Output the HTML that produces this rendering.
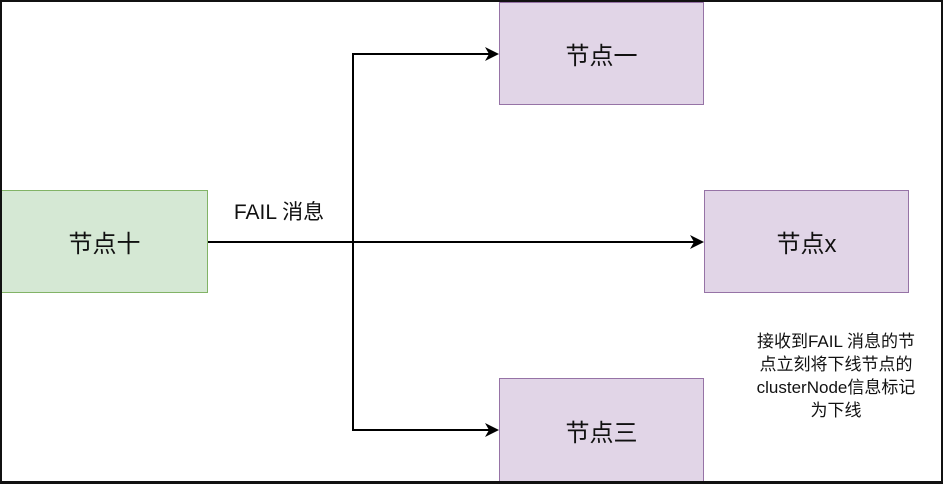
<!DOCTYPE html>
<html><head><meta charset="utf-8"><style>
html,body{margin:0;padding:0;background:#fff;}
body{width:943px;height:484px;position:relative;overflow:hidden;font-family:"Liberation Sans","Noto Sans CJK SC",sans-serif;}
.frame{position:absolute;left:0;top:0;width:943px;height:484px;box-sizing:border-box;border:2px solid #111;border-bottom-width:3px;}
.box{position:absolute;box-sizing:border-box;display:flex;align-items:center;justify-content:center;font-size:24px;color:#111;}
.g{background:#d5e8d4;border:1.5px solid #82b366;}
.p{background:#e1d5e7;border:1.5px solid #9673a6;}
</style></head><body>
<div class="box g" style="left:1px;top:190px;width:207px;height:103px;">节点十</div>
<div class="box p" style="left:499px;top:2px;width:205px;height:103px;">节点一</div>
<div class="box p" style="left:704px;top:190px;width:205px;height:103px;">节点x</div>
<div class="box p" style="left:499px;top:378px;width:205px;height:104px;">节点三</div>
<svg style="position:absolute;left:0;top:0" width="943" height="484">
<g stroke="#000" stroke-width="2" fill="none">
<line x1="208" y1="242" x2="694" y2="242"/>
<polyline points="489,54 353,54 353,430 489,430"/>
</g>
<g fill="#000">
<polygon points="704,242 690,235 694,242 690,249"/>
<polygon points="499,54 485,47 489,54 485,61"/>
<polygon points="499,430 485,423 489,430 485,437"/>
</g>
<text x="279" y="219" font-size="21" text-anchor="middle" font-family="Liberation Sans,Noto Sans CJK SC,sans-serif" fill="#111">FAIL 消息</text>
<g font-size="17" text-anchor="middle" font-family="Liberation Sans,Noto Sans CJK SC,sans-serif" fill="#111">
<text x="836" y="347">接收到FAIL 消息的节</text>
<text x="836" y="370">点立刻将下线节点的</text>
<text x="836" y="393">clusterNode信息标记</text>
<text x="836" y="416">为下线</text>
</g>
</svg>
<div class="frame"></div>
</body></html>
